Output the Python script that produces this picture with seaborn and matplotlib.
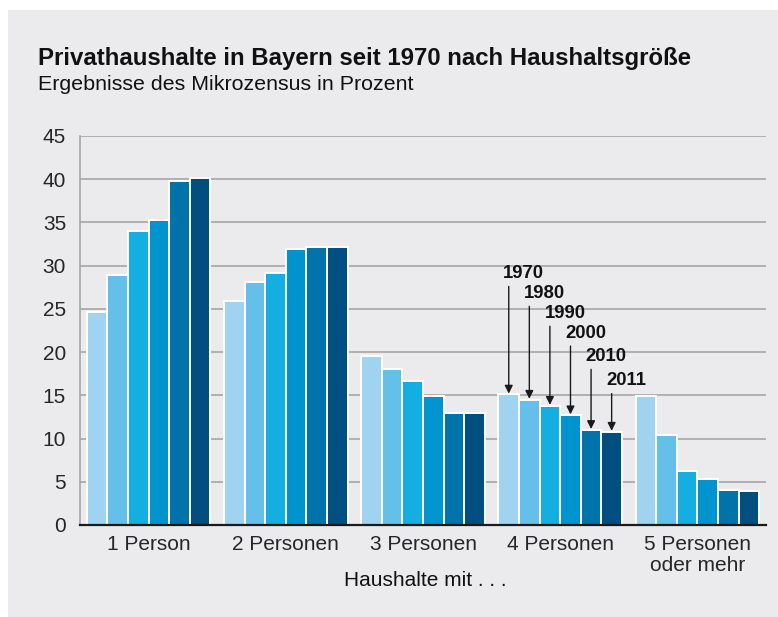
import matplotlib
matplotlib.use('Agg')
import matplotlib.pyplot as plt
from matplotlib.patches import Rectangle
import seaborn as sns
import pandas as pd

groups = ['1 Person', '2 Personen', '3 Personen', '4 Personen', '5 Personen\noder mehr']
years = ['1970', '1980', '1990', '2000', '2010', '2011']
vals_1970 = [24.6, 25.9, 19.6, 15.1, 14.9]
vals_1980 = [28.9, 28.1, 18.1, 14.5, 10.4]
vals_1990 = [34.0, 29.2, 16.7, 13.8, 6.3]
vals_2000 = [35.3, 31.9, 14.9, 12.7, 5.3]
vals_2010 = [39.8, 32.2, 12.9, 11.0, 4.0]
vals_2011 = [40.1, 32.2, 12.9, 10.8, 3.9]
colors = ['#a0d3ef', '#64c0e9', '#14aee0', '#0094cf', '#0073aa', '#004f80']

series = [vals_1970, vals_1980, vals_1990, vals_2000, vals_2010, vals_2011]
rows = []
for y, vals in zip(years, series):
    for g, v in zip(groups, vals):
        rows.append({'group': g, 'year': y, 'value': v})
df = pd.DataFrame(rows)

sns.set_style('white')
plt.rcParams['font.family'] = ['Liberation Sans', 'DejaVu Sans']

bg = '#ebebed'
fig = plt.figure(figsize=(7.78, 6.17), dpi=100, facecolor='white')
fig.patches.append(Rectangle((8/778, 0), 1 - 8/778, 1 - 10/617, transform=fig.transFigure,
                             facecolor=bg, edgecolor='none', zorder=-10))
ax = fig.add_axes([80/778, 1 - 525/617, (766 - 80)/778, (525 - 136)/617])
ax.set_facecolor(bg)

sns.barplot(data=df, x='group', y='value', hue='year', palette=colors, width=0.9,
            saturation=1, edgecolor='white', linewidth=1.4, ax=ax, legend=False, zorder=2)

ax.set_ylim(0, 45)
ax.set_xlim(-0.5, 4.5)
ax.set_yticks(range(0, 46, 5))
ax.yaxis.grid(True, color='#a6a6a6', linewidth=1.2, zorder=0)
ax.set_axisbelow(True)
for s in ['top', 'right']:
    ax.spines[s].set_visible(False)
ax.spines['left'].set_color('#a6a6a6')
ax.spines['left'].set_linewidth(1.2)
ax.spines['bottom'].set_color('#1a1a1a')
ax.spines['bottom'].set_linewidth(1.6)
ax.spines['bottom'].set_zorder(4)
ax.tick_params(axis='y', length=7, width=1.2, color='#a6a6a6', labelsize=15, pad=3)
ax.tick_params(axis='x', length=0, labelsize=15, pad=7)
ax.set_ylabel('')
ax.set_xlabel('')
for lab in ax.get_xticklabels():
    lab.set_linespacing(1.15)

# year annotations on the 4-person group
text_y = [28.1, 25.8, 23.5, 21.2, 18.5, 15.7]
for k, y in enumerate(years):
    bar = ax.containers[k][3]
    bx = bar.get_x() + bar.get_width() / 2
    top = bar.get_height()
    ax.annotate('', xy=(bx, top + 0.1), xytext=(bx, text_y[k] - 0.5),
                arrowprops=dict(arrowstyle='-|>', color='#1a1a1a', lw=1.0,
                                mutation_scale=12, shrinkA=0, shrinkB=0), zorder=5)
    ax.text(bx - 0.04, text_y[k], y, fontsize=13.3, fontweight='bold',
            ha='left', va='bottom', color='#111111', zorder=5)

fig.text(425/778, 1 - 581/617, 'Haushalte mit . . .', fontsize=15,
         ha='center', va='center', color='#111111')
fig.text(38/778, 1 - 58/617, 'Privathaushalte in Bayern seit 1970 nach Haushaltsgröße',
         fontsize=17.3, fontweight='bold', ha='left', va='center', color='#111111')
fig.text(38/778, 1 - 85/617, 'Ergebnisse des Mikrozensus in Prozent',
         fontsize=15.4, ha='left', va='center', color='#111111')

fig.savefig('out.png', dpi=100, facecolor='white')
